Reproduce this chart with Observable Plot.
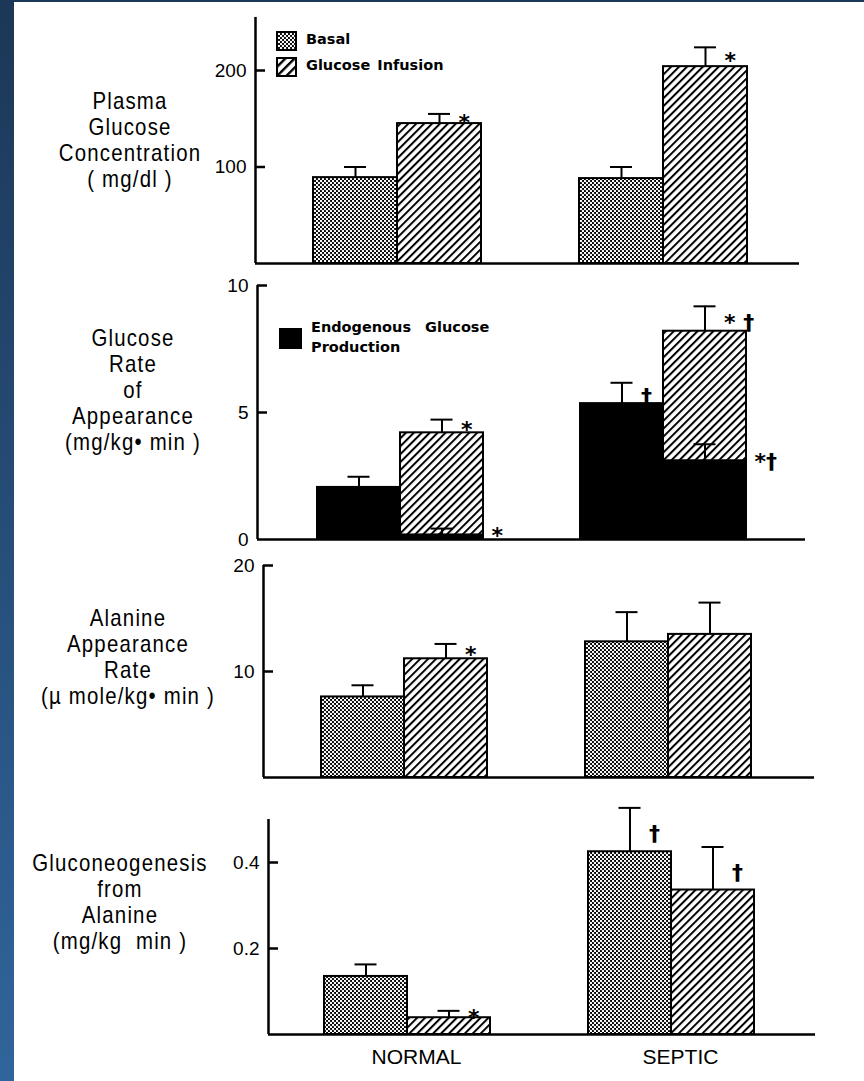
<!DOCTYPE html>
<html>
<head>
<meta charset="utf-8">
<script src="https://cdn.jsdelivr.net/npm/d3@7"></script>
<script src="https://cdn.jsdelivr.net/npm/@observablehq/plot@0.6"></script>
<style>
  html, body { margin: 0; padding: 0; background: #fff; }
  #page { position: relative; width: 864px; height: 1081px; overflow: hidden; background: #fff; }
  #edge-left { position: absolute; left: 0; top: 0; width: 14px; height: 1081px; background: linear-gradient(#1c3757, #30659b); }
  #edge-top { position: absolute; left: 0; top: 0; width: 864px; height: 2px; background: #1c3757; }
  .panel { position: absolute; left: 0; }
  .ylab { position: absolute; width: 300px; text-align: center; white-space: pre;
          font-family: "Liberation Sans", Arial, sans-serif;
          font-size: 24px; line-height: 26px; color: #000; letter-spacing: 1.4px;
          transform: scaleX(0.85); transform-origin: 150px 0; }
  .leg { position: absolute; font-family: "DejaVu Sans", sans-serif; font-weight: bold; font-size: 14.5px;
         line-height: 20px; color: #000; word-spacing: 2px; white-space: pre; }
  .sw { position: absolute; }
</style>
</head>
<body>
<div id="page">
  <svg width="0" height="0" style="position:absolute">
    <defs>
      <pattern id="basal" patternUnits="userSpaceOnUse" width="4" height="4">
        <rect width="4" height="4" fill="#000"></rect>
        <circle cx="1" cy="1" r="1.2" fill="#fff"></circle>
        <circle cx="3" cy="3" r="1.2" fill="#fff"></circle>
      </pattern>
      <pattern id="hatch" patternUnits="userSpaceOnUse" width="5.6" height="10" patternTransform="rotate(45)">
        <rect width="5.6" height="10" fill="#fff"></rect>
        <line x1="1" y1="0" x2="1" y2="10" stroke="#000" stroke-width="2"></line>
      </pattern>
      <pattern id="hatchLegend" patternUnits="userSpaceOnUse" width="6.5" height="10" patternTransform="rotate(45)">
        <rect width="6.5" height="10" fill="#fff"></rect>
        <line x1="1.2" y1="0" x2="1.2" y2="10" stroke="#000" stroke-width="2.4"></line>
      </pattern>
    </defs>
  </svg>
  <div id="edge-left"></div>
  <div id="edge-top"></div>
</div>
<script>
// Groups and infusion conditions; every series below is ordered
// NORMAL basal, NORMAL infusion, SEPTIC basal, SEPTIC infusion.
const groups = ["NORMAL", "SEPTIC"];
const conditions = ["Basal", "Glucose Infusion"];

// Plasma glucose concentration (mg/dl)
const plasmaGlucose = [89, 145, 88, 204];
const plasmaGlucoseSE = [11, 10, 12, 20];
const plasmaGlucoseSig = ["", "*", "", "*"];
const plasmaGlucoseTicks = [100, 200];

// Glucose rate of appearance (mg/kg·min): total and endogenous production
const glucoseRa = [2.05, 4.2, 5.35, 8.2];
const glucoseRaSE = [0.42, 0.52, 0.82, 0.98];
const glucoseRaSig = ["", "*", "†", "* †"];
const endogenousProduction = [2.05, 0.18, 5.35, 3.1];
const endogenousProductionSE = [0.42, 0.25, 0.82, 0.65];
const endogenousProductionSig = ["", "*", "", "*†"];
const glucoseRaTicks = [0, 5, 10];

// Alanine appearance rate (µmole/kg·min)
const alanineRa = [7.6, 11.2, 12.8, 13.5];
const alanineRaSE = [1.1, 1.4, 2.8, 3.0];
const alanineRaSig = ["", "*", "", ""];
const alanineRaTicks = [10, 20];

// Gluconeogenesis from alanine (mg/kg·min)
const gluconeogenesis = [0.135, 0.039, 0.425, 0.336];
const gluconeogenesisSE = [0.028, 0.016, 0.102, 0.1];
const gluconeogenesisSig = ["", "*", "†", "†"];
const gluconeogenesisTicks = [0.2, 0.4];

const page = document.getElementById("page");
const FONT = '"Liberation Sans", Arial, sans-serif';

function rows(values, se, sig) {
  return values.map((v, i) => ({
    g: Math.floor(i / 2), c: i % 2,
    group: groups[Math.floor(i / 2)], condition: conditions[i % 2],
    value: v, se: se[i], sig: sig[i]
  }));
}

// Builds one panel: geometry of the axes on the page plus a function producing marks
function panel(L, makeMarks) {
  const step = L.sCenter - L.nCenter;
  const lo = (L.axisX - L.nCenter) / step;
  const hi = (L.right - L.nCenter) / step;
  const w = L.barPx / step;
  const cap = 11 / step;
  const pxPerUnit = (L.zeroY - L.refY) / L.refVal;
  const topY = L.zeroY - L.yMax * pxPerUnit;
  const geo = {
    w, cap, lo,
    center: d => d.g + (d.c - 0.5) * w,
    x1: d => d.g + (d.c - 1) * w,
    x2: d => d.g + d.c * w,
    sigDx: 19 / step, sideDx: 8 / step, tick: 10 / step
  };
  const svg = Plot.plot({
    width: 864,
    height: L.height,
    marginLeft: L.axisX,
    marginRight: 864 - L.right,
    marginTop: topY - L.top,
    marginBottom: L.top + L.height - L.zeroY,
    x: {domain: [lo, hi], axis: null},
    y: {domain: [0, L.yMax], axis: null},
    style: {background: "transparent", fontFamily: FONT, fontSize: "19px", color: "#000", overflow: "visible"},
    marks: [
      ...makeMarks(geo),
      Plot.ruleX([lo], {stroke: "#000", strokeWidth: 2.5}),
      Plot.ruleY([0], {stroke: "#000", strokeWidth: 2.5}),
      Plot.ruleY(L.ticks.filter(t => t !== 0), {y: d => d, x1: lo, x2: lo + geo.tick, stroke: "#000", strokeWidth: 2.5}),
      Plot.axisY({ticks: L.ticks, tickSize: 0, tickPadding: 9, tickFormat: d => String(d), label: null,
                  fontSize: 19, fontFamily: FONT}),
      ...(L.xLabels ? [Plot.axisX({ticks: [0, 1], tickFormat: i => groups[i], tickSize: 0, tickPadding: 15,
                                   label: null, fontSize: 21, fontFamily: FONT, dx: 9})] : [])
    ]
  });
  svg.classList.add("panel");
  svg.style.top = L.top + "px";
  page.appendChild(svg);
}

function errorBars(data, geo, top = d => d.value + d.se) {
  return [
    Plot.ruleX(data, {x: geo.center, y1: "value", y2: top, stroke: "#000", strokeWidth: 2}),
    Plot.ruleY(data, {y: top, x1: d => geo.center(d) - geo.cap, x2: d => geo.center(d) + geo.cap, stroke: "#000", strokeWidth: 2})
  ];
}

function sigMarks(data, geo) {
  return Plot.text(data.filter(d => d.sig), {
    x: d => geo.center(d) + geo.sigDx, y: d => d.value + d.se / 2, text: "sig",
    textAnchor: "start", lineAnchor: "middle", dy: 4, fontSize: 22, fontWeight: "bold", fontFamily: "DejaVu Sans, sans-serif", fill: "#000"
  });
}

function patternBars(data, geo) {
  return [
    Plot.rect(data.filter(d => d.c === 0), {x1: geo.x1, x2: geo.x2, y1: 0, y2: "value", fill: "url(#basal)", stroke: "#000", strokeWidth: 2}),
    Plot.rect(data.filter(d => d.c === 1), {x1: geo.x1, x2: geo.x2, y1: 0, y2: "value", fill: "url(#hatch)", stroke: "#000", strokeWidth: 2})
  ];
}

// Panel 1: plasma glucose
const p1 = rows(plasmaGlucose, plasmaGlucoseSE, plasmaGlucoseSig);
panel({top: 0, height: 275, axisX: 255, right: 799, nCenter: 397, sCenter: 663, barPx: 84,
       zeroY: 263, refVal: 200, refY: 70, yMax: 255, ticks: plasmaGlucoseTicks},
      geo => [...patternBars(p1, geo), ...errorBars(p1, geo), sigMarks(p1, geo)]);

// Panel 2: glucose rate of appearance with endogenous production
const p2total = rows(glucoseRa, glucoseRaSE, glucoseRaSig);
const p2endo = rows(endogenousProduction, endogenousProductionSE, endogenousProductionSig);
panel({top: 275, height: 280, axisX: 257, right: 805, nCenter: 400, sCenter: 663, barPx: 83,
       zeroY: 539, refVal: 10, refY: 285, yMax: 10, ticks: glucoseRaTicks},
      geo => [
        Plot.rect(p2total.filter(d => d.c === 1), {x1: geo.x1, x2: geo.x2, y1: 0, y2: "value", fill: "url(#hatch)", stroke: "#000", strokeWidth: 2}),
        ...errorBars(p2total.filter(d => d.c === 1), geo),
        Plot.rect(p2endo, {x1: geo.x1, x2: geo.x2, y1: 0, y2: "value", fill: "#000", stroke: "#000", strokeWidth: 2}),
        ...errorBars(p2endo, geo),
        sigMarks(p2total, geo),
        Plot.text(p2endo.filter(d => d.sig), {
          x: d => geo.x2(d) + geo.sideDx, y: "value", text: "sig", textAnchor: "start", lineAnchor: "middle",
          dy: 1, fontSize: 22, fontWeight: "bold", fontFamily: "DejaVu Sans, sans-serif", fill: "#000"
        })
      ]);

// Panel 3: alanine appearance rate
const p3 = rows(alanineRa, alanineRaSE, alanineRaSig);
panel({top: 555, height: 245, axisX: 263, right: 814, nCenter: 404, sCenter: 668, barPx: 83,
       zeroY: 777, refVal: 10, refY: 671, yMax: 20, ticks: alanineRaTicks},
      geo => [...patternBars(p3, geo), ...errorBars(p3, geo), sigMarks(p3, geo)]);

// Panel 4: gluconeogenesis from alanine
const p4 = rows(gluconeogenesis, gluconeogenesisSE, gluconeogenesisSig);
panel({top: 800, height: 281, axisX: 268, right: 815, nCenter: 407, sCenter: 671, barPx: 83,
       zeroY: 1034, refVal: 0.4, refY: 862, yMax: 0.5, ticks: gluconeogenesisTicks, xLabels: true},
      geo => [...patternBars(p4, geo), ...errorBars(p4, geo), sigMarks(p4, geo)]);

// Axis titles on the left of each panel
const yTitles = [
  {cx: 130, y: 101, lines: ["Plasma", "Glucose", "Concentration", "( mg/dl )"]},
  {cx: 133, y: 338, lines: ["Glucose", "Rate", "of", "Appearance", "(mg/kg• min )"]},
  {cx: 128, y: 618, lines: ["Alanine", "Appearance", "Rate", "(µ mole/kg• min )"]},
  {cx: 120, y: 863, lines: ["Gluconeogenesis", "from", "Alanine", "(mg/kg  min )"]}
];
for (const t of yTitles) {
  const div = document.createElement("div");
  div.className = "ylab";
  div.style.left = (t.cx - 150) + "px";
  div.style.top = (t.y - 13) + "px";
  div.textContent = t.lines.join("\n");
  page.appendChild(div);
}

// Legends
function swatch(x, y, w, h, fill) {
  const ns = "http://www.w3.org/2000/svg";
  const s = document.createElementNS(ns, "svg");
  s.setAttribute("width", w); s.setAttribute("height", h);
  s.setAttribute("class", "sw");
  s.style.left = x + "px"; s.style.top = y + "px";
  const r = document.createElementNS(ns, "rect");
  r.setAttribute("x", 1); r.setAttribute("y", 1);
  r.setAttribute("width", w - 2); r.setAttribute("height", h - 2);
  r.setAttribute("fill", fill); r.setAttribute("stroke", "#000"); r.setAttribute("stroke-width", 2);
  s.appendChild(r);
  page.appendChild(s);
}
function legendText(x, y, text) {
  const d = document.createElement("div");
  d.className = "leg";
  d.style.left = x + "px"; d.style.top = (y - 10) + "px";
  d.textContent = text;
  page.appendChild(d);
}
swatch(276, 31, 21, 20, "url(#basal)");
legendText(306, 39, conditions[0]);
swatch(276, 57, 21, 20, "url(#hatchLegend)");
legendText(306, 65, conditions[1]);
swatch(279, 328, 23, 21, "#000");
legendText(311, 327, "Endogenous  Glucose\nProduction");
</script>
</body>
</html>
